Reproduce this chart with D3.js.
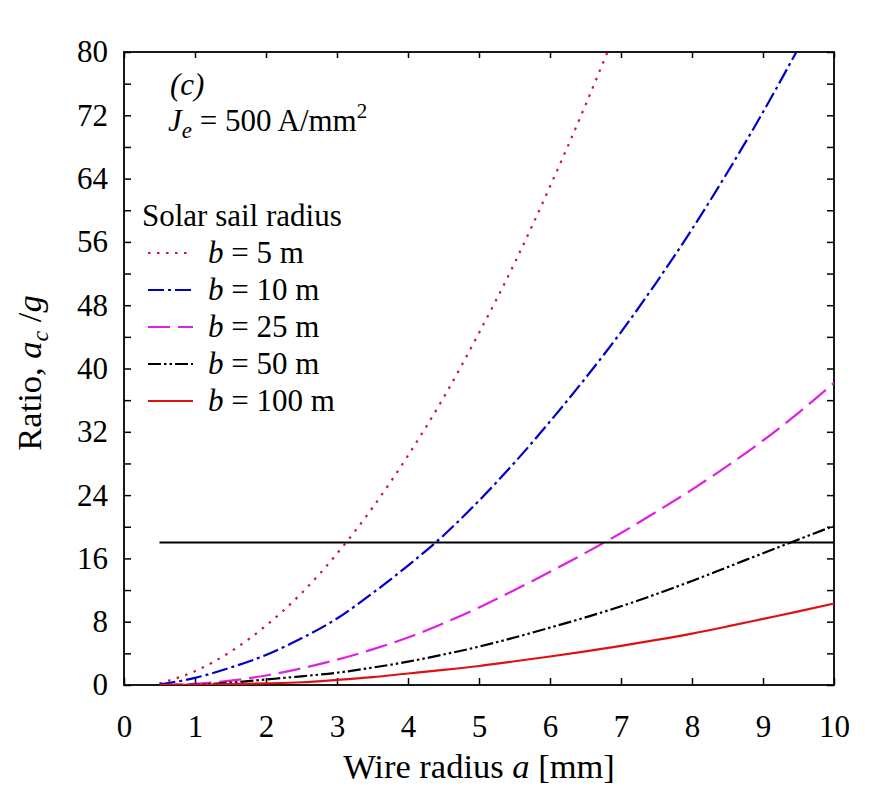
<!DOCTYPE html>
<html>
<head>
<meta charset="utf-8">
<script src="https://cdn.jsdelivr.net/npm/d3@7"></script>
<style>
  body { margin: 0; background: #fff; }
  text { font-family: "Liberation Serif", "Times New Roman", serif; fill: #000; }
</style>
</head>
<body>
<div id="viz"></div>
<script>
// wire radius a [mm] and ratio ac/g
const radiusGrid = [0.5, 1, 1.5, 2, 2.5, 3, 3.5, 4, 4.5, 5, 5.5, 6, 6.5, 7, 7.5, 8, 8.5, 9, 9.5, 10];

const radius5 = [0.5, 1, 1.5, 2, 2.5, 3, 3.5, 4, 4.5, 5, 5.5, 6, 6.5, 6.81];
const ratio5 = [0.2, 1.75, 4.2, 7.5, 11.6, 16.6, 22.4, 29.0, 36.3, 44.5, 53.3, 63.0, 73.3, 80];

const radius10 = [0.5, 1, 1.5, 2, 2.5, 3, 3.5, 4, 4.5, 5, 5.5, 6, 6.5, 7, 7.5, 8, 8.5, 9, 9.47];
const ratio10 = [0.05, 0.9, 2.2, 3.8, 5.9, 8.4, 11.6, 15.1, 18.9, 23.3, 28.1, 33.3, 38.8, 44.6, 50.9, 57.6, 64.8, 72.4, 80];

const ratio25 = [0.0, 0.15, 0.55, 1.2, 2.1, 3.2, 4.5, 6.0, 7.8, 9.8, 12.0, 14.3, 16.7, 19.2, 21.9, 24.7, 27.7, 30.9, 34.4, 38.2];
const ratio50 = [0.0, 0.05, 0.3, 0.7, 1.1, 1.55, 2.2, 2.95, 3.85, 4.85, 6.0, 7.25, 8.55, 9.95, 11.5, 13.15, 14.9, 16.65, 18.4, 20.1];
const ratio100 = [0.0, 0.02, 0.1, 0.2, 0.35, 0.65, 1.0, 1.45, 1.9, 2.4, 3.0, 3.6, 4.25, 4.95, 5.7, 6.5, 7.4, 8.35, 9.3, 10.3];

const limitRadius = [0.5, 10];
const limitRatio = [18, 18];

const sailLabels = ['5', '10', '25', '50', '100'];
const xTicks = [0, 1, 2, 3, 4, 5, 6, 7, 8, 9, 10];
const yTicks = [0, 4, 8, 12, 16, 20, 24, 28, 32, 36, 40, 44, 48, 52, 56, 60, 64, 68, 72, 76, 80];

const series = [
  { label: sailLabels[0], xs: radius5, ys: ratio5, colour: '#d0153a', dash: '2.5,6.5' },
  { label: sailLabels[1], xs: radius10, ys: ratio10, colour: '#0000cc', dash: '16,4,3,4' },
  { label: sailLabels[2], xs: radiusGrid, ys: ratio25, colour: '#e020e0', dash: '22,8' },
  { label: sailLabels[3], xs: radiusGrid, ys: ratio50, colour: '#000000', dash: '13,3,2.5,3,2.5,3' },
  { label: sailLabels[4], xs: radiusGrid, ys: ratio100, colour: '#dd1111', dash: null },
];

const width = 877;
const height = 798;
const margin = { top: 52, right: 43, bottom: 113, left: 124 };
const innerW = width - margin.left - margin.right;
const innerH = height - margin.top - margin.bottom;

const svg = d3.select('#viz')
  .append('svg')
  .attr('width', width)
  .attr('height', height);

const g = svg.append('g')
  .attr('transform', `translate(${margin.left}, ${margin.top})`);

const x = d3.scaleLinear().domain([0, 10]).range([0, innerW]);
const y = d3.scaleLinear().domain([0, 80]).range([innerH, 0]);

g.append('clipPath')
  .attr('id', 'plot-clip')
  .append('rect')
  .attr('width', innerW)
  .attr('height', innerH);

// axes with inward ticks
const styleAxis = (sel) => {
  sel.select('.domain').remove();
  sel.selectAll('.tick line').attr('stroke', '#000').attr('stroke-width', 1.5);
  sel.selectAll('.tick text').style('font-size', '31px');
};

g.append('g')
  .attr('transform', `translate(0, ${innerH})`)
  .call(d3.axisBottom(x).tickValues(xTicks).tickSizeInner(-7).tickSizeOuter(0).tickPadding(30))
  .call(styleAxis);

g.append('g')
  .call(d3.axisTop(x).tickValues(xTicks).tickSizeInner(-6).tickSizeOuter(0).tickFormat(''))
  .call(styleAxis);

g.append('g')
  .call(d3.axisLeft(y).tickValues(yTicks).tickSizeInner(-7).tickSizeOuter(0).tickPadding(16)
    .tickFormat(d => (d % 8 === 0 ? d : '')))
  .call(styleAxis);

g.append('g')
  .attr('transform', `translate(${innerW}, 0)`)
  .call(d3.axisRight(y).tickValues(yTicks).tickSizeInner(-7).tickSizeOuter(0).tickFormat(''))
  .call(styleAxis);

g.append('rect')
  .attr('width', innerW)
  .attr('height', innerH)
  .attr('fill', 'none')
  .attr('stroke', '#000')
  .attr('stroke-width', 1.8);

const line = d3.line()
  .x(d => x(d[0]))
  .y(d => y(d[1]))
  .curve(d3.curveMonotoneX);

const curves = g.append('g').attr('clip-path', 'url(#plot-clip)');

curves.selectAll('path.curve')
  .data(series)
  .enter()
  .append('path')
  .attr('class', 'curve')
  .attr('d', s => line(d3.zip(s.xs, s.ys)))
  .attr('fill', 'none')
  .attr('stroke', s => s.colour)
  .attr('stroke-width', 2.2)
  .attr('stroke-dasharray', s => s.dash);

curves.append('path')
  .attr('d', line(d3.zip(limitRadius, limitRatio)))
  .attr('fill', 'none')
  .attr('stroke', '#000')
  .attr('stroke-width', 2);

// annotations
svg.append('text')
  .attr('x', 170)
  .attr('y', 95)
  .style('font-size', '31px')
  .style('font-style', 'italic')
  .text('(c)');

const je = svg.append('text')
  .attr('x', 168)
  .attr('y', 131)
  .style('font-size', '31px');
je.append('tspan').style('font-style', 'italic').text('J');
je.append('tspan').style('font-style', 'italic').style('font-size', '23px').attr('dy', 7).text('e');
je.append('tspan').attr('dy', -7).text(' = 500 A/mm');
je.append('tspan').style('font-size', '21px').attr('dy', -13).text('2');

// legend
svg.append('text')
  .attr('x', 142)
  .attr('y', 226)
  .style('font-size', '31px')
  .text('Solar sail radius');

const legend = svg.append('g').selectAll('g')
  .data(series)
  .enter()
  .append('g')
  .attr('transform', (d, i) => `translate(0, ${263 + i * 37})`);

legend.append('line')
  .attr('x1', 148)
  .attr('x2', 193)
  .attr('y1', -10)
  .attr('y2', -10)
  .attr('stroke', d => d.colour)
  .attr('stroke-width', 2.2)
  .attr('stroke-dasharray', d => d.dash);

const legendText = legend.append('text')
  .attr('x', 208)
  .style('font-size', '31px');
legendText.append('tspan').style('font-style', 'italic').text('b');
legendText.append('tspan').text(d => ` = ${d.label} m`);

// axis titles
const xTitle = svg.append('text')
  .attr('x', margin.left + innerW / 2)
  .attr('y', 778)
  .attr('text-anchor', 'middle')
  .style('font-size', '34.5px');
xTitle.append('tspan').text('Wire radius ');
xTitle.append('tspan').style('font-style', 'italic').text('a');
xTitle.append('tspan').text(' [mm]');

const yTitle = svg.append('text')
  .attr('transform', 'translate(41, 373) rotate(-90)')
  .attr('text-anchor', 'middle')
  .style('font-size', '34.5px');
yTitle.append('tspan').text('Ratio, ');
yTitle.append('tspan').style('font-style', 'italic').text('a');
yTitle.append('tspan').style('font-style', 'italic').style('font-size', '24px').attr('dy', 7).text('c');
yTitle.append('tspan').attr('dy', -7).text(' /');
yTitle.append('tspan').style('font-style', 'italic').text('g');
</script>
</body>
</html>
